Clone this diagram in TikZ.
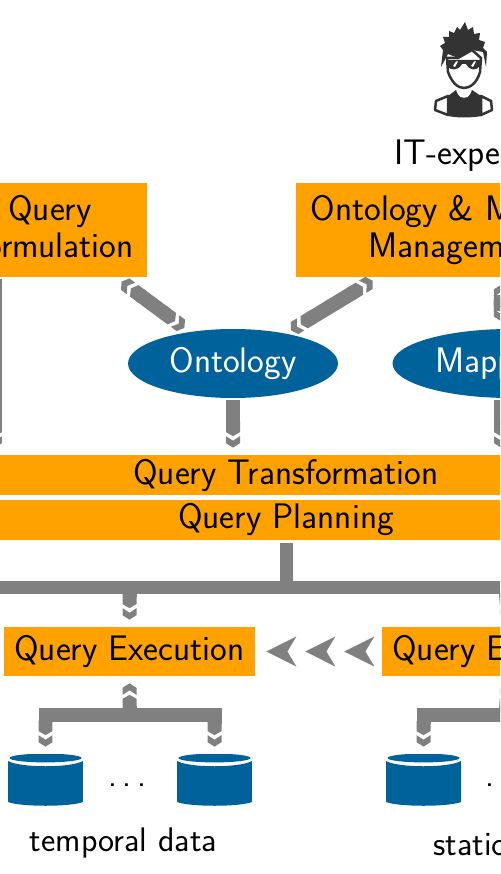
\documentclass[tikz,border=0pt]{standalone}
\usepackage{xcolor}
\usetikzlibrary{arrows.meta,calc,shapes.geometric}
\definecolor{BoxOrange}{HTML}{FFA200}
\definecolor{StoreBlue}{HTML}{00629B}
\definecolor{ArrowGray}{HTML}{808080}
\definecolor{ManInk}{HTML}{333333}
\tikzset{
  stage box/.style={
    rectangle,
    fill=BoxOrange,
    text=black,
    font=\fontsize{20.2}{21}\selectfont\sffamily,
    align=center,
    inner sep=0pt
  },
  store oval/.style={
    ellipse,
    fill=StoreBlue,
    text=white,
    font=\fontsize{20.2}{21}\selectfont\sffamily,
    minimum width=4.2cm,
    minimum height=1.38cm,
    inner sep=0pt
  },
  data store/.style={
    rectangle,
    minimum width=1.5cm,
    minimum height=1.04cm,
    inner sep=0pt,
    path picture={
      \begin{scope}[shift={(path picture bounding box.center)}]
        \fill[StoreBlue] (-37.5,-19) .. controls (-25,-12) and (25,-12) .. (37.5,-19)
          -- (37.5,22) .. controls (25,27) and (-25,27) .. (-37.5,22) -- cycle;
        \fill[StoreBlue] (0,-22) ellipse [x radius=36, y radius=4.4];
      \end{scope}
    }
  },
  plain label/.style={
    font=\fontsize{19.4}{21}\selectfont\sffamily,
    inner sep=0pt
  },
  flow one/.style={
    draw=ArrowGray,
    line width=0.28cm,
    shorten <=0.04cm,
    shorten >=0.05cm,
    -{Triangle Cap[length=0.08cm].Fast Triangle[length=0.09cm,sep=0.09cm]}
  },
  flow two/.style={
    draw=ArrowGray,
    line width=0.285cm,
    {Fast Triangle[length=0.09cm,sep=0.09cm].Triangle Cap[length=0.08cm]}-{Triangle Cap[length=0.08cm].Fast Triangle[length=0.09cm,sep=0.09cm]}
  },
  flow bar/.style={draw=ArrowGray, line width=0.27cm},
  push tips/.style={
    draw=white,
    line width=0.1pt,
    -{Stealth[ArrowGray,length=0.6cm,width=0.6cm,inset=0.18cm,sep=0.18cm]
      Stealth[ArrowGray,length=0.6cm,width=0.6cm,inset=0.18cm,sep=0.18cm]
      Stealth[ArrowGray,length=0.6cm,width=0.6cm,inset=0.18cm,sep=0.18cm]}
  }
}
\begin{document}
\begin{tikzpicture}[x=0.02cm, y=-0.02cm]
  \useasboundingbox (0,0) rectangle (500,874);
  \clip (0,0) rectangle (500,874);

  % boxes
  \node[stage box, minimum width=3.88cm, minimum height=1.88cm] (formulation) at (50,230)
    {Query\\\phantom{F}ormulation\vphantom{g}};
  \node[stage box, minimum width=6.5cm, minimum height=1.88cm] (omm) at (458.5,230)
    {Ontology \& M\phantom{apping}\\Managem\phantom{ent}};
  \node[store oval] (ontology) at (233,363.5) {Ontology};
  \node[store oval, minimum width=4.7cm] (mappings) at (510,363.5) {Mapp\hspace{0.32cm}\phantom{ings}};
  \node[stage box, minimum width=12cm, minimum height=0.8cm] (transformation) at (286,475)
    {Query Transformation};
  \node[stage box, minimum width=12cm, minimum height=0.8cm] (planning) at (286,520)
    {Query Planning};
  \node[stage box, minimum width=5.02cm, minimum height=0.98cm] (execution) at (129.5,651.5)
    {Query Execution};
  \node[stage box, minimum width=5.02cm, minimum height=0.98cm] (execution2) at (507.5,651.5)
    {Query E\phantom{xecution}};

  % stores
  \node[data store] (temporal1) at (45.5,780) {};
  \node[data store] (temporal2) at (214.5,780) {};
  \node[data store] (static1) at (423.5,780) {};
  \node[plain label] (dots1) at (127,785) {.\hspace{3.2pt}.\hspace{3.2pt}.};
  \node[plain label, anchor=west] (dots2) at (485.5,785) {.};
  \node[plain label] (temporal) at (123.5,842.5) {temporal data};
  \node[plain label, anchor=west] (static) at (433,845) {static};

  % junctions
  \coordinate (busL) at (0,587.5);
  \coordinate (busR) at (500,587.5);
  \coordinate (busM) at (286.5,587.5);
  \coordinate (busE) at (129.5,587.5);
  \coordinate (busF) at (506,587.5);
  \coordinate (tempM) at (129.5,715);
  \coordinate (tempL) at (45.5,715);
  \coordinate (tempR) at (214.5,715);
  \coordinate (statM) at (506,715);
  \coordinate (statL) at (423.5,715);

  % connectors
  \draw[flow one] ($(formulation.south)+(-55,0)$) -- ($(transformation.north)+(-291,0)$);
  \draw[flow two] ($(formulation.south)+(68,1.5)$) -- ($(ontology.north)+(-45,2)$);
  \draw[flow two] ($(omm.south)+(-82,1)$) -- ($(ontology.north)+(54,4)$);
  \draw[flow two] ($(omm.south)+(42.5,3)$) -- ($(mappings.north)+(-9,-3)$);
  \draw[flow one] (ontology.south) -- (ontology.south |- transformation.north);
  \draw[flow one] ($(mappings.south)+(-9,0)$) -- ($(transformation.north)+(215,0)$);
  \draw[flow bar] ($(planning.south -| busM)+(0,3)$) -- (busM);
  \draw[flow bar] (busL) -- (busR);
  \draw[flow one] (busE) -- (execution.north);
  \draw[flow one] (busF) -- (execution2.north);
  \draw[flow bar] ($(tempL)+(-7,0)$) -- ($(tempR)+(7,0)$);
  \draw[flow one] (tempM) -- (execution.south);
  \draw[flow one] (tempL) -- (temporal1.north);
  \draw[flow one] (tempR) -- (temporal2.north);
  \draw[flow bar] ($(statL)+(-7,0)$) -- (statM);
  \draw[flow one] (statL) -- (static1.north);
  \draw[flow one] (statM) -- (execution2.south);
  \draw[push tips, shorten <=0.16cm, shorten >=0.04cm] (execution2.west) -- (execution.east);

  % IT expert
  \fill[ManInk] (441,67) -- (443,50) -- (440,46) -- (445,43) -- (443,37) -- (449,37) -- (449,31) -- (454,33) -- (457,27)
    -- (460,30) -- (465,22) -- (468,30) -- (473,27) -- (474,34) -- (480,33) -- (479,40) -- (485,42)
    -- (483,48) -- (487,52) -- (486,67) -- (483,52) -- (472,50) -- (458,58) -- (448,54) -- cycle;
  \draw[ManInk, line width=0.05cm, fill=white] (447,58) -- (448,72) .. controls (452,83) and (458,88) .. (464,88)
    .. controls (470,88) and (477,83) .. (480,72) -- (481,58) -- (472,50) -- (458,58) -- cycle;
  \fill[ManInk] (446,60) -- (481,60) -- (480,66) .. controls (476,71) and (470,71) .. (466,64)
    -- (462,64) .. controls (458,71) and (451,71) .. (447,66) -- cycle;
  \fill[white] (453,66) -- (456,61.5) -- (458,61.5) -- (455,67) -- cycle;
  \fill[white] (471,66) -- (474,61.5) -- (476,61.5) -- (473,67) -- cycle;
  \fill[ManInk] (448,96) -- (456,90) .. controls (458,100) and (470,100) .. (472,90) -- (481,96)
    -- (482,116) .. controls (470,118) and (458,118) .. (448,116) -- cycle;
  \fill[white] (458,94) .. controls (461,91) and (467,91) .. (470,94) .. controls (469,99) and (459,99) .. (458,94) -- cycle;
  \draw[ManInk, line width=0.05cm, fill=white, line join=round] (448,96) -- (436,101) -- (435,110) -- (448,115) -- cycle;
  \draw[ManInk, line width=0.05cm, fill=white, line join=round] (481,96) -- (491,101) -- (492,110) -- (481,115) -- cycle;
  \node[plain label, anchor=west, font=\fontsize{20.2}{21}\selectfont\sffamily] (itexpert) at (394,156) {IT-expe};
\end{tikzpicture}
\end{document}
